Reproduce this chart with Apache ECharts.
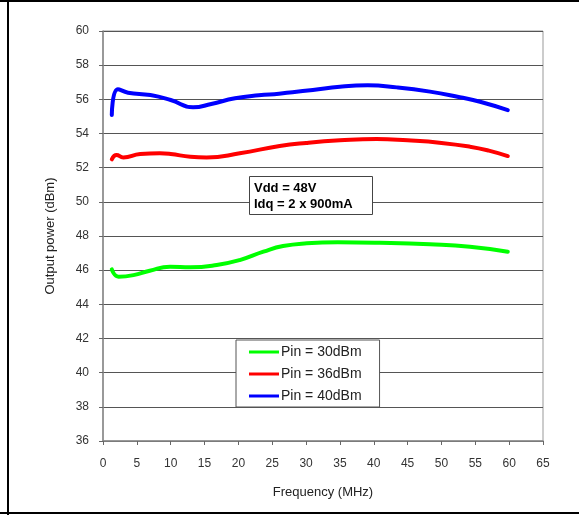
<!DOCTYPE html>
<html>
<head>
<meta charset="utf-8">
<script src="https://cdn.jsdelivr.net/npm/echarts@6/dist/echarts.min.js"></script>
<style>html,body{margin:0;padding:0;background:#fff}#c{width:579px;height:515px}</style>
</head>
<body>
<div id="c"></div>
<script>
var xTicks = [0,5,10,15,20,25,30,35,40,45,50,55,60,65];
var yTicks = [36,38,40,42,44,46,48,50,52,54,56,58,60];
var seriesNames = ['Pin = 30dBm','Pin = 36dBm','Pin = 40dBm'];
var freq30 = [1.3,2.3,4.5,6.9,9.9,12.9,16.8,20.2,23.7,26.6,30.1,34.7,40.9,48.3,54.2,59.8];
var pout30 = [46.05,45.62,45.71,45.97,46.2,46.17,46.3,46.59,47.08,47.41,47.57,47.63,47.6,47.51,47.37,47.08];
var freq36 = [1.3,2.0,3.0,5.5,8.4,10,12.9,15.3,20.2,26.1,30,35,40.4,45,50,54.2,57,59.8];
var pout36 = [52.49,52.74,52.6,52.8,52.84,52.8,52.64,52.6,52.84,53.27,53.45,53.6,53.68,53.6,53.45,53.23,53.0,52.68];
var freq40 = [1.3,2.2,3.7,7,10,13.3,16,19.5,23,26,28,31,35,39.1,43.4,48.3,52.7,55.7,59.8];
var pout40 = [55.08,56.59,56.39,56.25,55.96,55.53,55.73,56.06,56.24,56.33,56.42,56.55,56.74,56.82,56.7,56.45,56.12,55.86,55.37];
var noteLines = ['Vdd = 48V','Idq = 2 x 900mA'];

function pairs(xs, ys){ return xs.map(function(x,i){ return [x, ys[i]]; }); }
var colors = ['#00ff00','#ff0000','#0000ff'];
var dataSets = [pairs(freq30,pout30), pairs(freq36,pout36), pairs(freq40,pout40)];
var font = 'Liberation Sans, Arial, sans-serif';

var chart = echarts.init(document.getElementById('c'));
chart.setOption({
  animation: false,
  backgroundColor: '#fff',
  grid: {left:103, right:36, top:31, bottom:74, show:true, borderColor:'#999', borderWidth:1, backgroundColor:'transparent'},
  xAxis: {
    type:'value', min:xTicks[0], max:xTicks[xTicks.length-1], interval:5,
    name:'Frequency (MHz)', nameLocation:'middle', nameGap:45,
    nameTextStyle:{fontFamily:font, fontSize:13, color:'#222'},
    axisLine:{show:true, lineStyle:{color:'#888', width:1.5}},
    axisTick:{show:true, length:4, lineStyle:{color:'#666'}},
    axisLabel:{fontFamily:font, fontSize:12, color:'#333', margin:17},
    splitLine:{show:false}
  },
  yAxis: {
    type:'value', min:yTicks[0], max:yTicks[yTicks.length-1], interval:2,
    name:'Output power (dBm)', nameLocation:'middle', nameGap:46,
    nameTextStyle:{fontFamily:font, fontSize:13, color:'#222'},
    axisLine:{show:true, lineStyle:{color:'#888', width:1.5}},
    axisTick:{show:true, length:4, lineStyle:{color:'#666'}},
    axisLabel:{fontFamily:font, fontSize:12, color:'#333', margin:14},
    splitLine:{show:true, lineStyle:{color:'#555', width:1}}
  },
  legend: {
    orient:'vertical', left:236, top:340,
    padding:[5,18,4,13], itemGap:8,
    backgroundColor:'#fff', borderColor:'#555', borderWidth:1,
    itemWidth:30, itemHeight:3, icon:'rect',
    textStyle:{fontFamily:font, fontSize:14, color:'#222', padding:[0,0,0,-3]},
    data: seriesNames
  },
  series: seriesNames.map(function(n,i){
    return {name:n, type:'line', data:dataSets[i], smooth:0.5, showSymbol:false,
      lineStyle:{color:colors[i], width:4, cap:'round', join:'round'}, itemStyle:{color:colors[i]}, z:3};
  }),
  graphic: [
    {type:'line', shape:{x1:0,y1:1,x2:579,y2:1}, style:{stroke:'#000', lineWidth:2}},
    {type:'line', shape:{x1:8,y1:0,x2:8,y2:515}, style:{stroke:'#000', lineWidth:2}},
    {type:'line', shape:{x1:0,y1:513,x2:579,y2:513}, style:{stroke:'#000', lineWidth:2}},
    {type:'rect', left:249, top:176, z:100, shape:{x:0,y:0,width:123,height:38}, style:{fill:'#fff', stroke:'#444', lineWidth:1}},
    {type:'text', left:254, top:180, z:101, style:{text:noteLines.join('\n'), fontFamily:font, fontSize:13, fontWeight:'bold', fill:'#000', lineHeight:16}}
  ]
});
</script>
</body>
</html>
